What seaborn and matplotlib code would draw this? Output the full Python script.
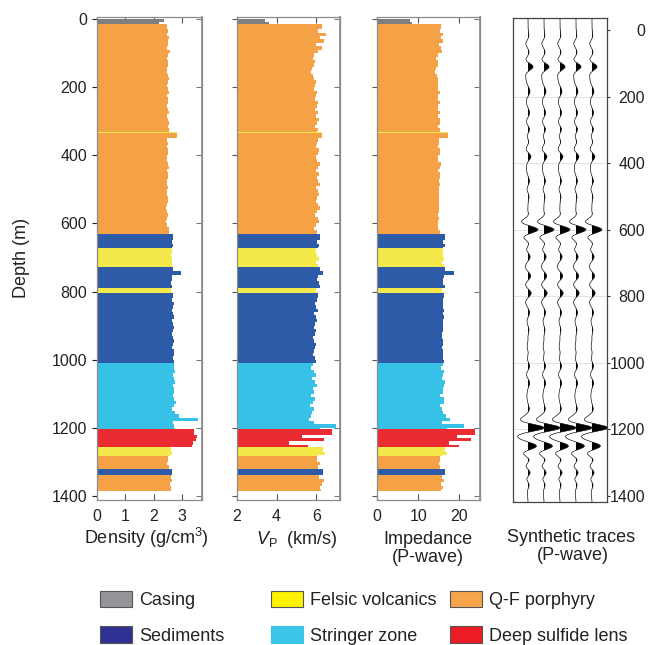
import numpy as np
import matplotlib
matplotlib.use("Agg")
import matplotlib.pyplot as plt
import seaborn as sns
from matplotlib.patches import Patch

# ---------------- data ----------------
STEP = 10
DEPTH = list(range(0, 1390, STEP))          # top of each 10 m log sample (m)

DENSITY = [
    2.35, 2.20, 2.48, 2.50, 2.47, 2.52, 2.49, 2.50, 2.46, 2.58,
    2.50, 2.47, 2.49, 2.51, 2.48, 2.46, 2.50, 2.52, 2.49, 2.47,
    2.50, 2.53, 2.48, 2.51, 2.49, 2.46, 2.50, 2.52, 2.48, 2.50,
    2.53, 2.49, 2.52, 2.55, 2.82, 2.48, 2.50, 2.47, 2.49, 2.51,
    2.48, 2.46, 2.50, 2.52, 2.47, 2.49, 2.51, 2.48, 2.46, 2.50,
    2.48, 2.45, 2.49, 2.51, 2.47, 2.44, 2.48, 2.50, 2.46, 2.43,
    2.47, 2.52, 2.55, 2.52, 2.68, 2.65, 2.67, 2.66, 2.64, 2.62,
    2.65, 2.63, 2.66, 2.68, 2.95, 2.66, 2.63, 2.60, 2.65, 2.62,
    2.64, 2.68, 2.66, 2.70, 2.67, 2.65, 2.69, 2.71, 2.66, 2.68,
    2.70, 2.67, 2.65, 2.69, 2.72, 2.68, 2.66, 2.70, 2.73, 2.69,
    2.71, 2.72, 2.70, 2.74, 2.68, 2.71, 2.75, 2.69, 2.72, 2.70,
    2.68, 2.73, 2.78, 2.71, 2.66, 2.74, 2.90, 3.55, 2.68, 2.72,
    2.75, 3.42, 3.52, 3.48, 3.40, 3.35, 2.62, 2.65, 2.58, 2.50,
    2.48, 2.52, 2.55, 2.66, 2.60, 2.63, 2.58, 2.62, 2.60,
]
VP = [
    3.40, 3.60, 6.30, 6.10, 6.50, 6.20, 6.40, 6.00, 6.30, 6.10,
    5.90, 5.85, 5.95, 5.90, 5.80, 5.75, 5.85, 5.90, 6.00, 5.95,
    5.90, 6.05, 6.00, 5.95, 6.10, 6.05, 5.95, 6.10, 6.00, 6.15,
    6.05, 5.95, 6.10, 6.05, 6.30, 6.10, 6.05, 6.00, 6.15, 6.10,
    6.00, 6.05, 6.20, 6.10, 6.00, 6.15, 6.05, 6.10, 6.20, 6.00,
    6.10, 6.15, 6.05, 6.00, 6.10, 6.20, 6.05, 5.95, 6.10, 6.15,
    6.00, 5.90, 6.05, 6.00, 6.20, 6.05, 6.15, 6.10, 6.00, 6.05,
    6.15, 6.00, 6.10, 6.20, 6.35, 6.10, 6.05, 6.15, 6.20, 6.00,
    6.05, 6.10, 6.05, 5.95, 6.00, 6.10, 5.90, 6.00, 6.05, 5.95,
    5.90, 6.00, 5.95, 5.85, 5.90, 6.00, 5.95, 5.90, 5.85, 5.95,
    6.00, 5.85, 5.75, 5.90, 6.00, 5.80, 5.95, 6.05, 5.85, 5.90,
    5.75, 5.95, 5.85, 5.70, 5.90, 5.80, 5.75, 5.65, 5.90, 7.00,
    6.20, 6.80, 5.30, 6.40, 4.60, 5.60, 6.35, 6.45, 6.10, 6.05,
    6.20, 6.10, 6.25, 6.35, 6.15, 6.40, 6.30, 6.20, 6.25,
]
IMPEDANCE = [
    8.0, 8.5, 15.6, 15.3, 16.1, 15.6, 15.9, 15.0, 15.5, 15.7,
    14.8, 14.4, 14.8, 14.8, 14.4, 14.1, 14.6, 14.9, 14.9, 14.7,
    14.8, 15.3, 14.9, 14.9, 15.2, 14.9, 14.9, 15.4, 14.9, 15.4,
    15.3, 14.8, 15.3, 15.4, 17.3, 15.1, 15.1, 14.8, 15.3, 15.3,
    14.9, 14.9, 15.5, 15.4, 14.8, 15.3, 15.2, 15.1, 15.3, 15.0,
    15.1, 15.1, 15.1, 15.1, 15.1, 15.1, 15.0, 14.9, 15.0, 14.9,
    14.8, 14.9, 15.4, 15.1, 16.6, 16.0, 16.4, 16.1, 16.1, 15.9,
    16.3, 15.8, 16.2, 16.6, 18.7, 16.2, 15.9, 16.0, 16.4, 15.7,
    16.0, 16.3, 16.1, 16.1, 16.0, 16.2, 15.9, 16.3, 16.1, 15.9,
    15.9, 16.0, 15.8, 15.7, 16.0, 16.1, 15.8, 15.9, 16.0, 16.0,
    16.3, 15.9, 15.5, 16.2, 16.1, 15.7, 16.4, 16.3, 15.9, 15.9,
    15.4, 16.2, 16.3, 15.4, 15.7, 15.9, 16.7, 17.8, 15.8, 21.0,
    17.0, 23.8, 19.5, 22.8, 17.5, 19.8, 16.5, 17.0, 15.8, 15.2,
    15.0, 15.4, 15.8, 16.6, 15.8, 16.2, 15.5, 15.9, 15.6,
]

LITHO_TOP = [0, 15, 332, 335, 631, 672, 728, 790, 804, 1010, 1203, 1256, 1283, 1321, 1338]
LITHO_BOT = [15, 332, 335, 631, 672, 728, 790, 804, 1010, 1203, 1256, 1283, 1321, 1338, 1385]
LITHO_UNIT = ["Casing", "Q-F porphyry", "Felsic volcanics",
              "Q-F porphyry", "Sediments", "Felsic volcanics", "Sediments", "Felsic volcanics",
              "Sediments", "Stringer zone", "Deep sulfide lens", "Felsic volcanics",
              "Q-F porphyry", "Sediments", "Q-F porphyry"]

LEGEND_COLUMNS = [["Casing", "Sediments"],
                  ["Felsic volcanics", "Stringer zone"],
                  ["Q-F porphyry", "Deep sulfide lens"]]

# synthetic seismogram: reflection events (depth m, relative amplitude)
SYN_EVENT_DEPTH = [40, 75, 110, 150, 185, 215, 250, 300, 335, 380, 420, 455, 500, 545,
                   575, 600, 640, 680, 710, 740, 790, 820, 850, 900, 950, 1010, 1060,
                   1100, 1140, 1195, 1250, 1290, 1330, 1365]
SYN_EVENT_AMP = [-0.12, 0.06, 0.32, -0.06, 0.09, -0.05, 0.09, 0.11, 0.08, 0.18, -0.05, 0.08,
                 0.06, -0.06, -0.18, 0.55, 0.10, 0.12, -0.06, 0.15, 0.18, -0.05, 0.08, 0.06,
                 -0.05, 0.10, 0.10, -0.05, 0.08, 1.00, 0.55, 0.15, 0.17, 0.10]
TRACE_POS = [1, 2, 3, 4, 5]

# ---------------- style ----------------
LOG_COLORS = {"Casing": "#7d7f81", "Q-F porphyry": "#f5a247", "Felsic volcanics": "#f4e84a",
              "Sediments": "#2d5ba8", "Stringer zone": "#38c1e7", "Deep sulfide lens": "#ea2b32"}
LEG_COLORS = {"Casing": "#939598", "Q-F porphyry": "#f7a54a", "Felsic volcanics": "#fff200",
              "Sediments": "#2e3192", "Stringer zone": "#39c4e8", "Deep sulfide lens": "#ed1c24"}

sns.set_theme(style="white")
plt.rcParams["font.family"] = ["Liberation Sans", "DejaVu Sans"]
plt.rcParams["mathtext.fontset"] = "custom"
plt.rcParams["mathtext.rm"] = "Liberation Sans"
plt.rcParams["mathtext.it"] = "Liberation Sans:italic"

W, H = 662, 645
fig = plt.figure(figsize=(W / 100, H / 100), dpi=100)
fig.patch.set_facecolor("white")


def ax_px(x0, y0, x1, y1):
    return fig.add_axes([x0 / W, 1 - y1 / H, (x1 - x0) / W, (y1 - y0) / H])


ax1 = ax_px(97, 17, 202, 500)
ax2 = ax_px(237, 17, 340, 500)
ax3 = ax_px(377, 17, 480, 500)
ax4 = ax_px(513, 18, 607, 502)


def draw_log(ax, vals, x0):
    n = len(vals)
    for top, bot, unit in zip(LITHO_TOP, LITHO_BOT, LITHO_UNIT):
        inner = [d for d in DEPTH if top < d < bot]
        i0 = min(int(np.ceil(top / STEP)), n - 1)
        v = [vals[i0]] + [vals[DEPTH.index(d)] for d in inner]
        z = [top] + inner + [bot]
        v = v + [v[-1]]
        ax.fill_betweenx(z, x0, v, step="post", color=LOG_COLORS[unit], lw=0)


SPINE = "#8c8c8c"
for ax, vals, lim, ticks in [(ax1, DENSITY, (0, 3.7), [0, 1, 2, 3]),
                             (ax2, VP, (2, 7.2), [2, 4, 6]),
                             (ax3, IMPEDANCE, (0, 25), [0, 10, 20])]:
    draw_log(ax, vals, lim[0])
    ax.set_xlim(*lim)
    ax.set_ylim(1412, -6)
    ax.set_xticks(ticks)
    ax.set_xticklabels([str(t) for t in ticks])
    ax.set_yticks(range(0, 1401, 200))
    ax.tick_params(axis="x", direction="in", top=True, bottom=True, length=4, width=0.8,
                   color="#555555", labelsize=11.5, pad=6.5, labelcolor="#222222")
    ax.tick_params(axis="y", direction="out", left=True, right=False, length=3.6, width=0.8,
                   color="#555555", labelleft=False)
    sec = ax.secondary_yaxis("right")
    sec.set_yticks(range(0, 1401, 200))
    sec.tick_params(direction="in", length=4, width=0.8, color="#777777", labelright=False)
    sec.spines["right"].set_color(SPINE)
    for s in ax.spines.values():
        s.set_color(SPINE)
        s.set_linewidth(0.9)

ax1.tick_params(axis="y", labelleft=True, labelsize=11.5, pad=3.5, labelcolor="#222222",
                color="#222222")
ax1.set_yticklabels([str(d) for d in range(0, 1401, 200)])

# synthetic traces
z = np.linspace(-36, 1418, 2400)
f = 0.016
trace = np.zeros_like(z)
for d, a in zip(SYN_EVENT_DEPTH, SYN_EVENT_AMP):
    arg = (np.pi * f * (z - d)) ** 2
    trace += a * (1 - 2 * arg) * np.exp(-arg)

for yy in range(200, 1201, 200):
    ax4.axhline(yy, color="#e2e2e2", lw=0.7, zorder=0)
for xb in TRACE_POS:
    xs = xb + trace
    ax4.fill_betweenx(z, xb, xs, where=trace > 0, color="black", lw=0, interpolate=True)
    sns.lineplot(x=xs, y=z, orient="y", sort=False, estimator=None, color="#111111",
                 lw=0.5, ax=ax4)
ax4.set_xlim(0.06, 5.94)
ax4.set_ylim(1418, -36)
ax4.set_xticks([])
ax4.set_xlabel("")
ax4.set_ylabel("")
ax4.yaxis.tick_right()
ax4.set_yticks(range(0, 1401, 200))
ax4.set_yticklabels([str(d) for d in range(0, 1401, 200)])
ax4.tick_params(axis="y", direction="out", right=True, left=False, length=2, width=0.8,
                color="#333333", labelsize=11.5, pad=25.5, labelcolor="#222222")
for t in ax4.get_yticklabels():
    t.set_horizontalalignment("right")
for s in ax4.spines.values():
    s.set_color("#444444")
    s.set_linewidth(0.9)

# axis titles
FS = 13
fig.text(146 / W, 1 - 538 / H, "Density (g/cm$^3$)", ha="center", va="center", fontsize=FS, color="#222222")
fig.text(297 / W, 1 - 539 / H, "$V_{\\mathrm{P}}$  (km/s)", ha="center", va="center", fontsize=FS, color="#222222")
fig.text(428 / W, 1 - 540 / H, "Impedance", ha="center", va="center", fontsize=FS, color="#222222")
fig.text(428 / W, 1 - 557 / H, "(P-wave)", ha="center", va="center", fontsize=FS, color="#222222")
fig.text(571 / W, 1 - 538 / H, "Synthetic traces", ha="center", va="center", fontsize=FS, color="#222222")
fig.text(573 / W, 1 - 556 / H, "(P-wave)", ha="center", va="center", fontsize=FS, color="#222222")
fig.text(22 / W, 1 - 258 / H, "Depth (m)", ha="center", va="center", rotation=90, fontsize=FS, color="#222222")

# legend: three columns
col_x = [100, 271, 450]
for cx, names in zip(col_x, LEGEND_COLUMNS):
    handles = [Patch(facecolor=LEG_COLORS[n],
                     edgecolor=("#555555" if n != "Stringer zone" else LEG_COLORS[n]),
                     lw=0.8, label=n) for n in names]
    fig.legend(handles=handles, loc="upper left", bbox_to_anchor=(cx / W, 1 - 591 / H),
               frameon=False, fontsize=FS, handlelength=1.75, handleheight=1.0,
               handletextpad=0.4, labelspacing=0.95, borderpad=0, borderaxespad=0,
               labelcolor="#222222")

fig.savefig("out.png", dpi=100, facecolor="white")
